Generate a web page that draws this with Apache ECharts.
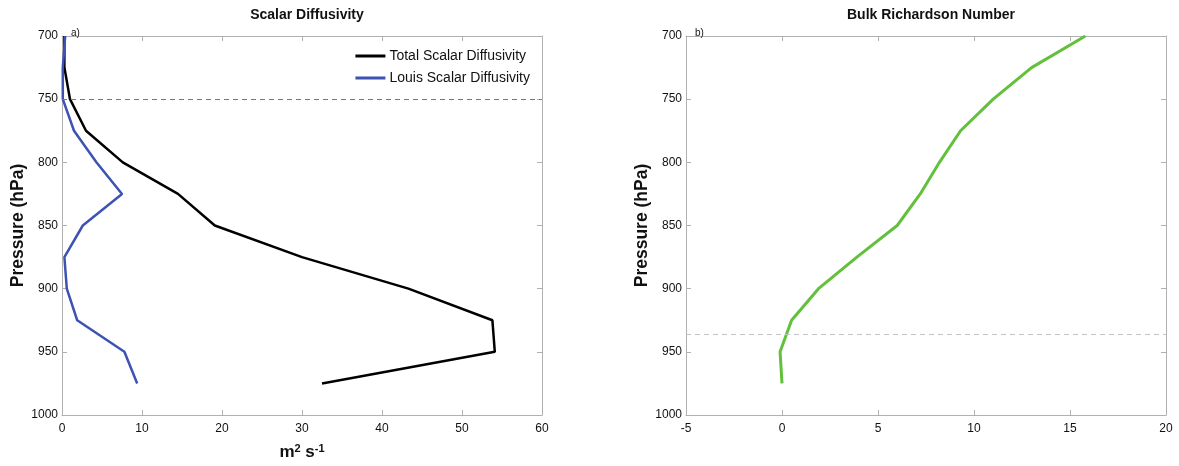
<!DOCTYPE html>
<html>
<head>
<meta charset="utf-8">
<script src="https://cdn.jsdelivr.net/npm/echarts@6/dist/echarts.min.js"></script>
<style>
  html, body { margin: 0; padding: 0; background: #fff; }
  #chart { width: 1179px; height: 466px; }
</style>
</head>
<body>
<div id="chart"></div>
<script>
// pressure levels (hPa)
const pressure = [700, 725, 750, 775, 800, 825, 850, 875, 900, 925, 950, 975]
// a) scalar diffusivity, m2 s-1
const totalDiff = [0.3, 0.3, 1.0, 3.0, 7.6, 14.5, 19.1, 30.0, 43.3, 53.8, 54.1, 32.5]
const louisDiff = [0.4, 0.1, 0.1, 1.5, 4.3, 7.5, 2.6, 0.3, 0.6, 1.9, 7.8, 9.4]
// b) bulk Richardson number
const richardson = [15.8, 13.0, 11.0, 9.3, 8.2, 7.2, 6.0, 3.9, 1.9, 0.5, -0.1, 0.0]

const pairs = vals => vals.map((v, i) => [v, pressure[i]])

const chart = echarts.init(document.getElementById('chart'))
const font = 'Liberation Sans, Arial, sans-serif'
const frame = { onZero: false, lineStyle: { color: '#b0b0b0', width: 1 } }
const tick = { inside: true, length: 5, lineStyle: { color: '#b0b0b0' } }
const label = { color: '#111', fontSize: 12, fontFamily: font, formatter: v => String(v) }

const xAxisFor = (grid, min, max, interval, name) => [
  {
    gridIndex: grid, type: 'value', min, max, interval, position: 'bottom',
    axisLine: frame, axisTick: tick, splitLine: { show: false },
    axisLabel: { ...label, margin: 8 },
    name, nameLocation: 'middle', nameGap: 28,
    nameTextStyle: {
      fontFamily: font, fontSize: 17, fontWeight: 'bold', color: '#111',
      rich: { sup: { fontSize: 11, fontWeight: 'bold', verticalAlign: 'top', padding: [0, 0, 8, 0] } }
    }
  },
  {
    gridIndex: grid, type: 'value', min, max, interval, position: 'top',
    axisLine: frame, axisTick: tick, axisLabel: { show: false }, splitLine: { show: false }
  }
]

const yAxisFor = grid => [
  {
    gridIndex: grid, type: 'value', min: 700, max: 1000, interval: 50, inverse: true,
    position: 'left', axisLine: frame, axisTick: tick, splitLine: { show: false },
    axisLabel: { ...label, margin: 4 },
    name: 'Pressure (hPa)', nameLocation: 'middle', nameGap: 28, nameRotate: 90,
    nameTextStyle: { fontFamily: font, fontSize: 17.5, fontWeight: 'bold', color: '#111' }
  },
  {
    gridIndex: grid, type: 'value', min: 700, max: 1000, interval: 50, inverse: true,
    position: 'right', axisLine: frame, axisTick: tick, axisLabel: { show: false },
    splitLine: { show: false }
  }
]

const option = {
  animation: false,
  backgroundColor: '#fff',
  title: [
    { text: 'Scalar Diffusivity', left: 302, top: 3, textAlign: 'center',
      textStyle: { fontFamily: font, fontSize: 14, fontWeight: 'bold', color: '#111' } },
    { text: 'Bulk Richardson Number', left: 926, top: 3, textAlign: 'center',
      textStyle: { fontFamily: font, fontSize: 14, fontWeight: 'bold', color: '#111' } },
    { text: 'a)', left: 66, top: 23, textStyle: { fontFamily: font, fontSize: 10, fontWeight: 'normal', color: '#111' } },
    { text: 'b)', left: 690, top: 23, textStyle: { fontFamily: font, fontSize: 10, fontWeight: 'normal', color: '#111' } }
  ],
  legend: {
    orient: 'vertical', right: 644, top: 44, itemWidth: 30, itemHeight: 3, itemGap: 8,
    icon: 'rect',
    textStyle: { fontFamily: font, fontSize: 14, color: '#111', padding: [0, 0, 0, -1] },
    data: ['Total Scalar Diffusivity', 'Louis Scalar Diffusivity']
  },
  grid: [
    { left: 62, top: 36, width: 480, height: 379 },
    { left: 686, top: 36, width: 480, height: 379 }
  ],
  xAxis: [
    ...xAxisFor(0, 0, 60, 10, 'm{sup|2} s{sup|-1}'),
    ...xAxisFor(1, -5, 20, 5, '')
  ],
  yAxis: [...yAxisFor(0), ...yAxisFor(1)],
  series: [
    {
      name: 'Total Scalar Diffusivity', type: 'line', xAxisIndex: 0, yAxisIndex: 0,
      data: pairs(totalDiff), showSymbol: false, color: '#000',
      lineStyle: { color: '#000', width: 2.5 },
      markLine: {
        silent: true, symbol: 'none', label: { show: false },
        lineStyle: { color: '#777', type: [5, 4], width: 1 },
        data: [{ yAxis: 750 }]
      }
    },
    {
      name: 'Louis Scalar Diffusivity', type: 'line', xAxisIndex: 0, yAxisIndex: 0,
      data: pairs(louisDiff), showSymbol: false, color: '#3d52b3',
      lineStyle: { color: '#3d52b3', width: 2.5 }
    },
    {
      name: 'Bulk Richardson Number', type: 'line', xAxisIndex: 2, yAxisIndex: 2,
      data: pairs(richardson), showSymbol: false, color: '#63c03c',
      lineStyle: { color: '#63c03c', width: 3 },
      markLine: {
        silent: true, symbol: 'none', label: { show: false },
        lineStyle: { color: '#c4c4c4', type: [5, 4], width: 1 },
        data: [{ yAxis: 936 }]
      }
    }
  ]
}
chart.setOption(option)
</script>
</body>
</html>
